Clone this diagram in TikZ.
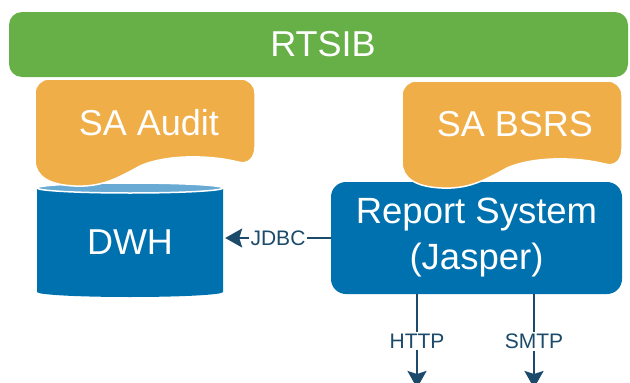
\documentclass[tikz,border=0pt]{standalone}
\usepackage{fontspec}
\setmainfont{Liberation Sans}
\usepackage{xcolor}
\usepackage{tikz}
\usetikzlibrary{calc, arrows.meta}

\definecolor{rtsibgreen}{HTML}{66B047}
\definecolor{saorange}{HTML}{F0AE48}
\definecolor{sysblue}{HTML}{0071AF}
\definecolor{dwhtop}{HTML}{68AAD3}
\definecolor{linkblue}{HTML}{1B4A6A}

\tikzset{
    bigtext/.style={text=white, font=\fontsize{36}{43}\selectfont, inner sep=0pt},
    sabubble/.style={fill=saorange, draw=white, line width=1.5pt},
    conn/.style={-{Stealth[length=17pt, width=19pt, inset=3pt]}, draw=linkblue, line width=2pt},
    lbl/.style={fill=white, text=linkblue, font=\fontsize{21}{25}\selectfont, inner sep=2pt}
}

\begin{document}
\begin{tikzpicture}[x=1pt, y=-1pt]
    \useasboundingbox (0,0) rectangle (630,383);
    \clip (0,0) rectangle (630,383);

    % Thanh RTSIB
    \fill[rtsibgreen, rounded corners=13pt] (9,12) rectangle (628,77);
    \node[bigtext] (rtsib) at (323,44) {RTSIB};

    % Kho DWH
    \fill[sysblue] (37,188) -- (37,292)
        arc[start angle=180, end angle=0, x radius=93, y radius=5] -- (223,188) -- cycle;
    \filldraw[fill=dwhtop, draw=white, line width=1.5pt] (130,188) ellipse [x radius=93, y radius=5];
    \node[bigtext, minimum width=186pt, minimum height=100pt] (dwh) at (130,242) {DWH};

    % Report System
    \node[bigtext, fill=sysblue, rounded corners=15pt, minimum width=291pt, minimum height=112pt,
        align=center, font=\fontsize{36.5}{46}\selectfont] (rep) at (476.5,238) {Report System\\(Jasper)};

    % Hai khung SA
    \foreach \dx/\dy in {0/0, 367/2} {
        \begin{scope}[shift={(\dx,\dy)}]
            \path[sabubble] (35,160) [rounded corners=14pt] -- (35,79) -- (255,79) [sharp corners] -- (255,147)
                .. controls (255,158) and (248,165) .. (238,162)
                .. controls (215,156) and (170,153) .. (140,166)
                .. controls (115,180) and (100,187) .. (75,186)
                .. controls (50,185) and (35,177) .. (35,160) -- cycle;
        \end{scope}
    }
    \node[bigtext] (audit) at (149,123) {SA Audit};
    \node[bigtext] (bsrs) at (515,124) {SA BSRS};

    % Kết nối
    \coordinate (http) at (417,388);
    \coordinate (smtp) at (534,388);
    \draw[conn] (rep.west) -- node[lbl] {JDBC} ($(rep.west -| dwh.east)+(2,0)$);
    \draw[conn] (rep.south -| http) -- node[lbl] {HTTP} (http);
    \draw[conn] (rep.south -| smtp) -- node[lbl] {SMTP} (smtp);
\end{tikzpicture}
\end{document}
